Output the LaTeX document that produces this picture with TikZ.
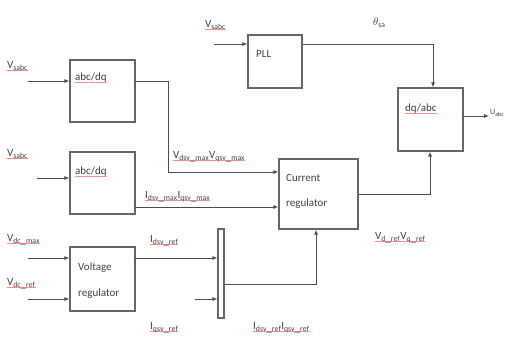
\documentclass[tikz,border=0pt]{standalone}
\usepackage{fontspec}
\setmainfont{Carlito}
\usetikzlibrary{arrows.meta}
\newcommand\squig[1]{\setbox0\hbox{#1}\rlap{\color{red!45}\rule[-2pt]{\wd0}{0.5pt}}\box0}
\begin{document}
\begin{tikzpicture}[x=1pt,y=-1pt,
  blk/.style={draw=black!60,line width=1.2pt,minimum width=#1,inner sep=0pt},
  wire/.style={draw=black!70,line width=0.9pt},
  arr/.style={wire,-{Latex[length=5pt,width=4pt]}},
  btxt/.style={font=\fontsize{11}{12}\selectfont,text=black!75,anchor=west,inner sep=0pt},
  lbl/.style={font=\fontsize{11}{12}\selectfont,text=black!75,anchor=west,inner sep=0pt}]
\useasboundingbox (0,0) rectangle (506,337);
% blocks
\node[blk=65pt,minimum height=62pt] (ad1) at (102.5,91) {};
\node[blk=65pt,minimum height=62pt] (ad2) at (102.5,183) {};
\node[blk=65pt,minimum height=64pt] (vr) at (102.5,279) {};
\node[blk=54pt,minimum height=53pt] (pll) at (275,61.5) {};
\node[blk=65pt,minimum height=63pt] (da) at (430.5,119.5) {};
\node[blk=79pt,minimum height=70pt] (cr) at (318.5,194) {};
\node[blk=6pt,minimum height=89pt] (mux) at (221,273.5) {};
% block texts
\node[btxt] (t1) at (75,78) {\squig{abc/dq}};
\node[btxt] (t2) at (75,172) {\squig{abc/dq}};
\node[btxt] (t3) at (256,54) {PLL};
\node[btxt] (t4) at (405,109) {\squig{dq/abc}};
\node[btxt] (t5) at (286,178) {Current};
\node[btxt] (t6) at (286,204) {regulator};
\node[btxt] (t7) at (78,268) {Voltage};
\node[btxt] (t8) at (78,294) {regulator};
% free ends
\coordinate (i1) at (28,81);
\coordinate (i2) at (37,178);
\coordinate (i3) at (28,258);
\coordinate (i4) at (28,299);
\coordinate (i5) at (214,44);
\coordinate (i6) at (195,299);
\coordinate (o1) at (489,116);
% inputs
\draw[arr] (i1) -- (i1 -| ad1.west);
\draw[arr] (i2) -- (i2 -| ad2.west);
\draw[arr] (i3) -- (i3 -| vr.west);
\draw[arr] (i4) -- (i4 -| vr.west);
\draw[arr] (i5) -- (i5 -| pll.west);
\draw[arr] (i6) -- (i6 -| mux.west);
\draw[arr] (da.east |- o1) -- (o1);
% connectors
\draw[arr] (ad1.east |- 0,81) -- (168,81) -- (168,172) -- (cr.west |- 0,172);
\draw[arr] (ad2.east |- 0,207) -- (cr.west |- 0,207);
\draw[arr] (vr.east |- 0,258) -- (mux.west |- 0,258);
\draw[arr] (mux.east |- 0,284) -- (316,284) -- (316,0 |- cr.south);
\draw[arr] (cr.east |- 0,194) -- (430,194) -- (430,0 |- da.south);
\draw[arr] (pll.east |- 0,44) -- (433,44) -- (433,0 |- da.north);
% labels
\node[lbl] (l1) at (7,66) {\squig{V$_{\mathrm{sabc}}$}};
\node[lbl] (l2) at (7,154) {\squig{V$_{\mathrm{sabc}}$}};
\node[lbl] (l3) at (7,240) {\squig{V$_{\mathrm{dc\_max}}$}};
\node[lbl] (l4) at (7,284) {\squig{V$_{\mathrm{dc\_ref}}$}};
\node[lbl] (l5) at (205,25) {\squig{V$_{\mathrm{sabc}}$}};
\node[lbl] (l6) at (373,23) {$\theta_{\mathrm{sa}}$};
\node[lbl] (l7) at (173,157) {\squig{V$_{\mathrm{dsv\_max}}$V$_{\mathrm{qsv\_max}}$}};
\node[lbl] (l8) at (145,197) {\squig{I$_{\mathrm{dsv\_max}}$I$_{\mathrm{qsv\_max}}$}};
\node[lbl] (l9) at (150,241) {\squig{I$_{\mathrm{dsv\_ref}}$}};
\node[lbl] (l10) at (150,328) {\squig{I$_{\mathrm{qsv\_ref}}$}};
\node[lbl] (l11) at (253,328) {\squig{I$_{\mathrm{dsv\_ref}}$I$_{\mathrm{qsv\_ref}}$}};
\node[lbl] (l12) at (375,238) {\squig{V$_{\mathrm{d\_ref}}$V$_{\mathrm{q\_ref}}$}};
\node[lbl,font=\fontsize{8}{9}\selectfont] (l13) at (490,113) {U$_{\mathrm{abc}}$};
\end{tikzpicture}
\end{document}
